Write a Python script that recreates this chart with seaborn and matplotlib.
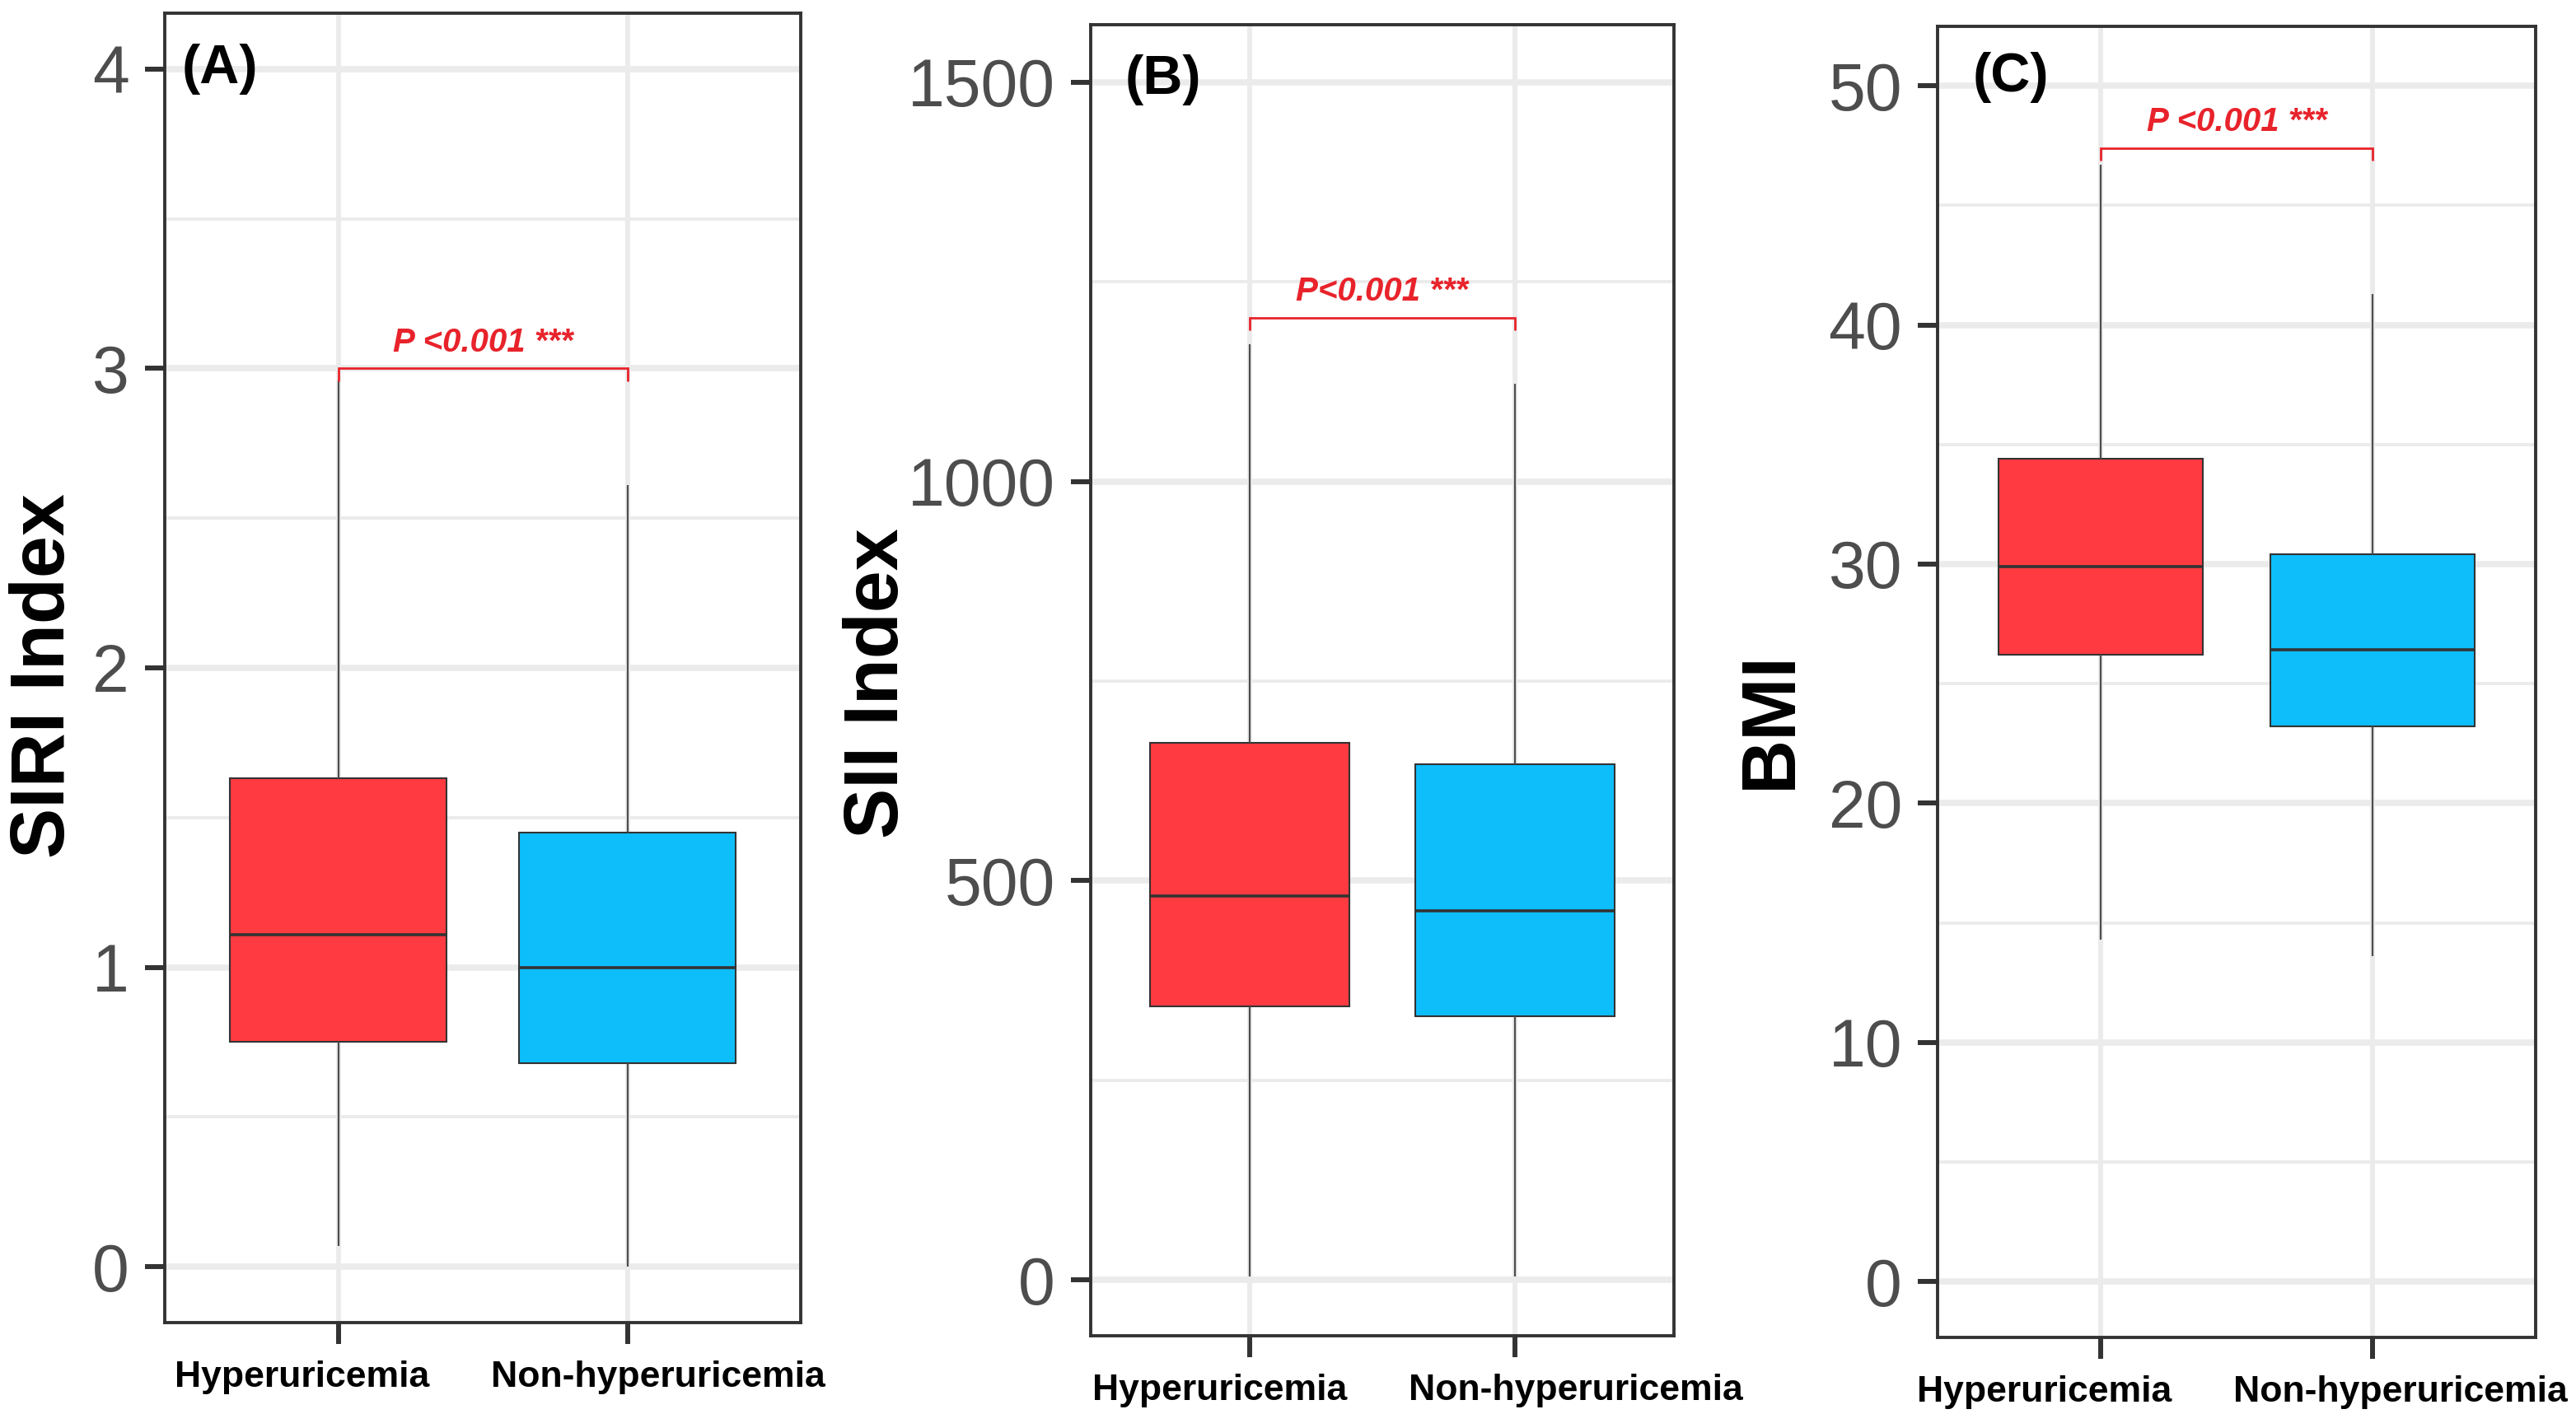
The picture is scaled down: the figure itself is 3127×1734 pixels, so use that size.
import numpy as np
import pandas as pd
import matplotlib.pyplot as plt
import seaborn as sns
from matplotlib import font_manager
from matplotlib.ticker import MultipleLocator
from matplotlib.transforms import ScaledTranslation

# group names on the x axis
groups = ["Hyperuricemia", "Non-hyperuricemia"]

# box summaries: lower whisker, Q1, median, Q3, upper whisker
siri_hyper = [0.07, 0.75, 1.11, 1.63, 2.96]
siri_non = [0.0, 0.68, 1.00, 1.45, 2.61]
sii_hyper = [4, 343, 481, 673, 1172]
sii_non = [4, 330, 462, 646, 1122]
bmi_hyper = [14.3, 26.2, 29.9, 34.4, 46.7]
bmi_non = [13.6, 23.2, 26.4, 30.4, 41.3]

y_labels = ["SIRI Index", "SII Index", "BMI"]
panel_tags = ["(A)", "(B)", "(C)"]
p_labels = ["P <0.001 ***", "P<0.001 ***", "P <0.001 ***"]
bracket_y = [3.0, 1205, 47.4]
y_ticks = [[0, 1, 2, 3, 4], [0, 500, 1000, 1500], [0, 10, 20, 30, 40, 50]]

box_colors = ["#FF3A40", "#0DBEFB"]
red = "#E8232B"

sns.set_style("white")
plt.rcParams['font.family'] = ['Liberation Sans', 'DejaVu Sans']

try:
    font_manager.findfont("Liberation Sans Narrow", fallback_to_default=False)
    narrow = "Liberation Sans Narrow"
except Exception:
    narrow = "Liberation Sans"


def make_frame(hyper, non):
    return pd.DataFrame({
        "group": [groups[0]] * len(hyper) + [groups[1]] * len(non),
        "value": hyper + non,
    })


frames = [make_frame(siri_hyper, siri_non),
          make_frame(sii_hyper, sii_non),
          make_frame(bmi_hyper, bmi_non)]

fig = plt.figure(figsize=(31.27, 17.34), dpi=100)

# axes placement in figure fractions (left, bottom, width, height)
positions = [
    [0.0640, 0.0738, 0.2469, 0.9170],
    [0.4234, 0.0646, 0.2264, 0.9181],
    [0.7522, 0.0634, 0.2322, 0.9181],
]
ylims = [(-0.187, 4.187), (-70, 1572), (-2.34, 52.48)]
minor_steps = [0.5, 250, 5]
label_xy = [(-0.189, 0.494), (-0.364, 0.498), (-0.278, 0.471)]
tag_xy = [(0.026, 0.957), (0.059, 0.958), (0.058, 0.961)]
tick_fonts = [narrow, "Liberation Sans", narrow]
# the x labels sit a little apart from their ticks in the original (points)
xlabel_shift = [(-32, 27), (-26, 53), (-49, 24)]

for i, df in enumerate(frames):
    ax = fig.add_axes(positions[i])
    sns.boxplot(data=df, x="group", y="value", hue="group", palette=box_colors,
                order=groups, hue_order=groups, legend=False, width=0.75,
                saturation=1, whis=(0, 100), showcaps=False, showfliers=False,
                linecolor="#333333", linewidth=1.5,
                whiskerprops={"color": "#4D4D4D", "linewidth": 1.6},
                medianprops={"color": "#333333", "linewidth": 2.6},
                ax=ax)

    ax.set_xlim(-0.6, 1.6)
    ax.set_ylim(*ylims[i])
    ax.set_yticks(y_ticks[i])
    ax.yaxis.set_minor_locator(MultipleLocator(minor_steps[i]))
    ax.set_axisbelow(True)
    ax.grid(axis="y", which="major", color="#EBEBEB", linewidth=5.5)
    ax.grid(axis="y", which="minor", color="#EBEBEB", linewidth=2.8)
    ax.grid(axis="x", which="major", color="#EBEBEB", linewidth=4.2)

    for s in ax.spines.values():
        s.set_visible(True)
        s.set_color("#333333")
        s.set_linewidth(2.8)

    ax.tick_params(axis="y", which="major", length=17, width=4.3, color="#333333",
                   pad=14, labelsize=58, labelcolor="#4D4D4D", left=True)
    ax.tick_params(axis="y", which="minor", length=0)
    ax.tick_params(axis="x", which="major", length=19, width=4.3, color="#333333",
                   pad=14, labelsize=32, labelcolor="black", bottom=True)
    for t in ax.get_yticklabels():
        t.set_fontfamily(tick_fonts[i])
    for t, dx in zip(ax.get_xticklabels(), xlabel_shift[i]):
        t.set_fontweight("bold")
        t.set_transform(t.get_transform() + ScaledTranslation(dx / 72, 0, fig.dpi_scale_trans))

    ax.set_xlabel("")
    ax.set_ylabel(y_labels[i], fontsize=66, fontweight="bold", color="black", va="center")
    ax.yaxis.set_label_coords(*label_xy[i])

    ax.text(tag_xy[i][0], tag_xy[i][1], panel_tags[i], transform=ax.transAxes,
            fontsize=48, fontweight="bold", color="black", ha="left", va="center")

    # significance bracket between the two groups
    y = bracket_y[i]
    d = 0.009 * (ylims[i][1] - ylims[i][0])
    ax.plot([0, 0, 1, 1], [y - d, y, y, y - d], color=red, linewidth=2.0,
            solid_joinstyle="miter", zorder=5)
    ax.annotate(p_labels[i], xy=(0.5, y), xytext=(0, 9), textcoords="offset points",
                ha="center", va="bottom", fontsize=29, fontweight="bold",
                fontstyle="italic", color=red)

fig.savefig("out.png", dpi=100)
